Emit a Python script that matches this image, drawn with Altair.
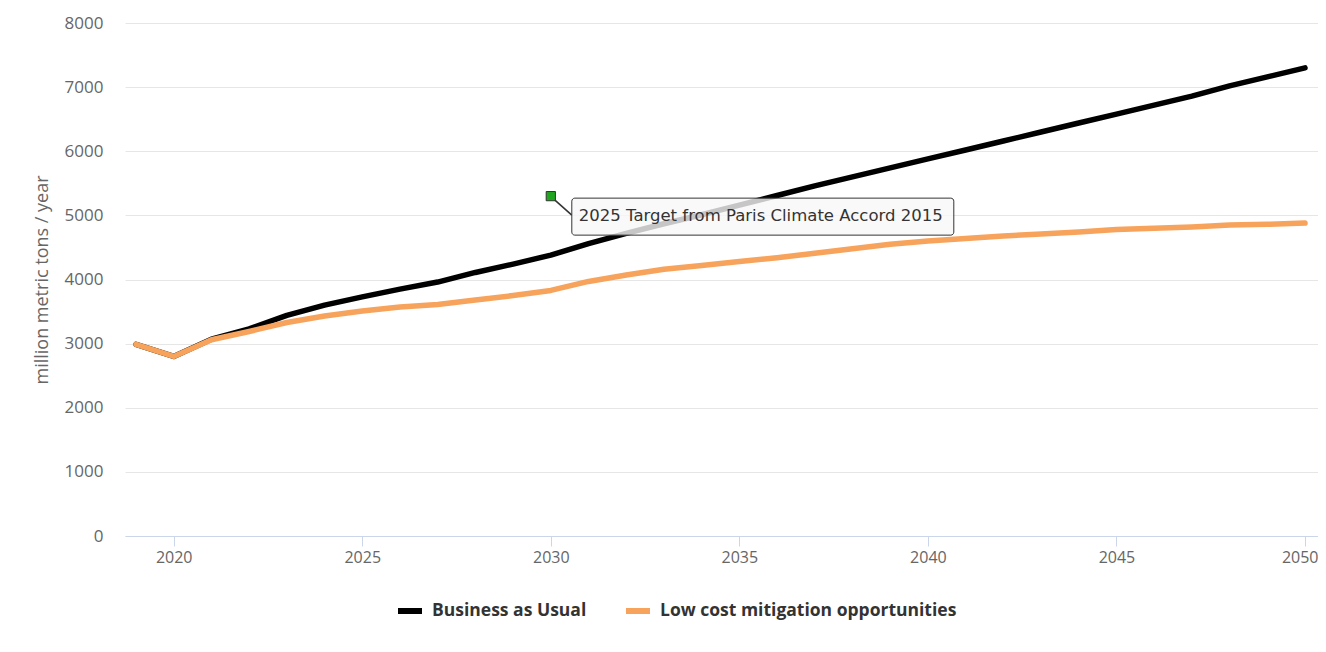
import altair as alt
import pandas as pd

# ---- data ----
years = list(range(2019, 2051))
business_as_usual = [2990, 2800, 3070, 3230, 3440, 3600, 3730, 3850, 3960, 4110,
                     4240, 4380, 4560, 4720, 4870, 5010, 5160, 5310, 5460, 5600,
                     5740, 5880, 6020, 6160, 6300, 6440, 6580, 6720, 6860, 7020,
                     7160, 7300]
low_cost = [2990, 2800, 3060, 3190, 3330, 3430, 3510, 3570, 3610, 3680,
            3750, 3830, 3970, 4070, 4160, 4220, 4280, 4340, 4410, 4480,
            4550, 4600, 4640, 4680, 4710, 4740, 4780, 4800, 4820, 4850,
            4860, 4880]
series_names = ["Business as Usual", "Low cost mitigation opportunities"]
series_colors = ["#000000", "#f7a35c"]
x_ticks = [2020, 2025, 2030, 2035, 2040, 2045, 2050]
y_ticks = [0, 1000, 2000, 3000, 4000, 5000, 6000, 7000, 8000]
annotation_year = [2030]
annotation_value = [5300]
annotation_text = ["2025 Target from Paris Climate Accord 2015"]

df = pd.DataFrame({
    "year": years * 2,
    "value": business_as_usual + low_cost,
    "series": [series_names[0]] * len(years) + [series_names[1]] * len(years),
})
ann = pd.DataFrame({"year": annotation_year, "value": annotation_value,
                    "label": annotation_text})

x_scale = alt.Scale(domain=[2018.708, 2050.345], nice=False, zero=False)
y_scale = alt.Scale(domain=[0, 8000], nice=False)

X = alt.X("year:Q", scale=x_scale, axis=alt.Axis(
    values=x_ticks, format="d", title=None, grid=False,
    domainColor="#ccd6eb", tickColor="#ccd6eb", tickSize=10, labelPadding=3,
    labelFont="Open Sans", labelFontSize=16, labelColor="#666666",
    labelFlush=15, labelFlushOffset=13, labelOverlap=False))
Y = alt.Y("value:Q", scale=y_scale, axis=alt.Axis(
    values=y_ticks, format="d", title="million metric tons / year",
    domain=False, ticks=False, tickSize=0, labelPadding=22,
    gridColor="#e6e6e6",
    labelFont="Open Sans", labelFontSize=17, labelColor="#666666",
    titleFont="Open Sans", titleFontSize=18, titleFontWeight="normal",
    titleColor="#666666", titlePadding=13))

lines = alt.Chart(df).mark_line(strokeWidth=5.5, strokeCap="round",
                                strokeJoin="round").encode(
    x=X, y=Y,
    color=alt.Color("series:N",
                    scale=alt.Scale(domain=series_names, range=series_colors),
                    legend=alt.Legend(
                        title=None, orient="none", legendX=270, legendY=573,
                        direction="horizontal", symbolType="stroke",
                        symbolSize=576, symbolStrokeWidth=6,
                        labelFont="Open Sans", labelFontSize=17.5,
                        labelFontWeight="bold", labelColor="#333333",
                        labelLimit=0, columnPadding=27, labelOffset=7)),
)

box = alt.Chart(ann).mark_rect(
    fill="#f7f7f7", fillOpacity=0.8, stroke="#333333", strokeWidth=1,
    cornerRadius=3, xOffset=21, x2Offset=403, yOffset=2, y2Offset=39
).encode(x=X, x2=alt.X2("year"), y=Y, y2=alt.Y2("value"))

connector = alt.Chart(ann).mark_rule(
    color="#333333", strokeWidth=1.5, xOffset=3, yOffset=3,
    x2Offset=21, y2Offset=19
).encode(x=X, x2=alt.X2("year"), y=Y, y2=alt.Y2("value"))

label = alt.Chart(ann).mark_text(
    align="left", baseline="middle", dx=28, dy=20, font="DejaVu Sans",
    fontSize=16.5, color="#333333"
).encode(x=X, y=Y, text="label:N")

marker = alt.Chart(ann).mark_square(
    size=85, fill="#1fa51f", stroke="#333333", strokeWidth=1, opacity=1
).encode(x=X, y=Y)

chart = alt.layer(lines, connector, box, label, marker).properties(
    width=1193, height=513,
    autosize=alt.AutoSizeParams(type="none"),
    padding={"left": 117, "top": 15, "right": 0, "bottom": 96},
    background="white",
).configure_view(stroke=None)

chart.save("out.html", embed_options={"renderer": "svg", "actions": False})
